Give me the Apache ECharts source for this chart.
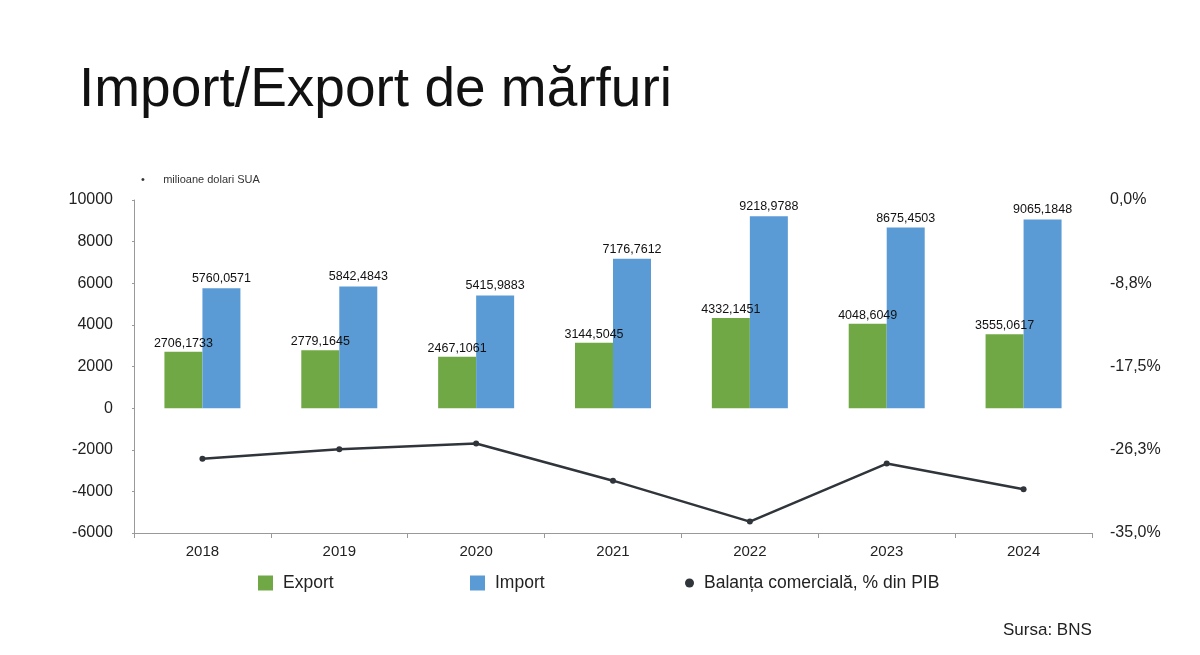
<!DOCTYPE html>
<html>
<head>
<meta charset="utf-8">
<script src="https://cdn.jsdelivr.net/npm/echarts@6/dist/echarts.min.js"></script>
<style>
  html, body { margin: 0; padding: 0; background: #fff; }
  #chart-container { width: 1200px; height: 655px; }
</style>
</head>
<body>
<div id="chart-container"></div>
<script>
var dom = document.getElementById("chart-container");
var myChart = echarts.init(dom, null, { renderer: "canvas" });

var years = ["2018", "2019", "2020", "2021", "2022", "2023", "2024"];
var exportValues = [2706.1733, 2779.1645, 2467.1061, 3144.5045, 4332.1451, 4048.6049, 3555.0617];
var importValues = [5760.0571, 5842.4843, 5415.9883, 7176.7612, 9218.9788, 8675.4503, 9065.1848];
var balancePct = [-27.2, -26.2, -25.6, -29.5, -33.8, -27.7, -30.4];

function fmtNum(v) {
  return v.toFixed(4).replace(".", ",");
}

var legendText = { fontSize: 17.5, color: "#222", padding: [0, 0, 0, 5] };

var option = {
  backgroundColor: "#ffffff",
  textStyle: { fontFamily: "Liberation Sans, Arial, sans-serif" },
  title: [
    {
      text: "Import/Export de mărfuri",
      left: 74,
      top: 58,
      textStyle: { fontSize: 55, fontWeight: "normal", color: "#111" }
    },
    {
      text: "•      milioane dolari SUA",
      left: 136,
      top: 169,
      textStyle: { fontSize: 11, fontWeight: "normal", color: "#333" }
    },
    {
      text: "Sursa: BNS",
      left: 998,
      top: 617,
      textStyle: { fontSize: 17, fontWeight: "normal", color: "#222" }
    }
  ],
  legend: [
    {
      left: 253, top: 569, itemWidth: 15, itemHeight: 15, textStyle: legendText,
      data: [{ name: "Export", icon: "rect" }]
    },
    {
      left: 465, top: 569, itemWidth: 15, itemHeight: 15, textStyle: legendText,
      data: [{ name: "Import", icon: "rect" }]
    },
    {
      left: 680, top: 569, itemWidth: 9, itemHeight: 9, textStyle: legendText,
      data: [{ name: "Balanța comercială, % din PIB", icon: "circle", itemStyle: { color: "#2f353a" } }]
    }
  ],
  grid: { left: 134, right: 108, top: 200, bottom: 122, containLabel: false },
  xAxis: {
    type: "category",
    data: years,
    axisLine: { onZero: false, lineStyle: { color: "#999", width: 1 } },
    axisTick: { show: true, alignWithLabel: false, inside: false, length: 5, lineStyle: { color: "#999" } },
    axisLabel: { color: "#222", fontSize: 15, margin: 11 }
  },
  yAxis: [
    {
      type: "value",
      min: -6000,
      max: 10000,
      interval: 2000,
      splitLine: { show: false },
      axisLine: { show: true, lineStyle: { color: "#999" } },
      axisTick: { show: true, length: 2, lineStyle: { color: "#999" } },
      axisLabel: {
        color: "#222",
        fontSize: 16,
        margin: 21,
        formatter: function (v) { return String(v); }
      }
    },
    {
      type: "value",
      min: -35,
      max: 0,
      interval: 8.75,
      splitLine: { show: false },
      axisLine: { show: false },
      axisTick: { show: false },
      axisLabel: {
        color: "#222",
        fontSize: 16,
        margin: 18,
        formatter: function (v) { return v.toFixed(1).replace(".", ",") + "%"; }
      }
    }
  ],
  series: [
    {
      name: "Export",
      type: "bar",
      data: exportValues,
      barWidth: 38,
      barGap: "0%",
      itemStyle: { color: "#70a846" },
      label: {
        show: true,
        position: "top",
        distance: 2,
        fontSize: 12.5,
        color: "#111",
        formatter: function (p) { return fmtNum(p.value); }
      }
    },
    {
      name: "Import",
      type: "bar",
      data: importValues,
      barWidth: 38,
      itemStyle: { color: "#5b9bd5" },
      label: {
        show: true,
        position: "top",
        distance: 3,
        fontSize: 12.5,
        color: "#111",
        formatter: function (p) { return fmtNum(p.value); }
      }
    },
    {
      name: "Balanța comercială, % din PIB",
      type: "line",
      yAxisIndex: 1,
      data: balancePct,
      symbol: "circle",
      symbolSize: 6,
      lineStyle: { color: "#2f353a", width: 2.5 },
      itemStyle: { color: "#2f353a" }
    }
  ]
};

myChart.setOption(option);
window.addEventListener("resize", myChart.resize);
</script>
</body>
</html>
